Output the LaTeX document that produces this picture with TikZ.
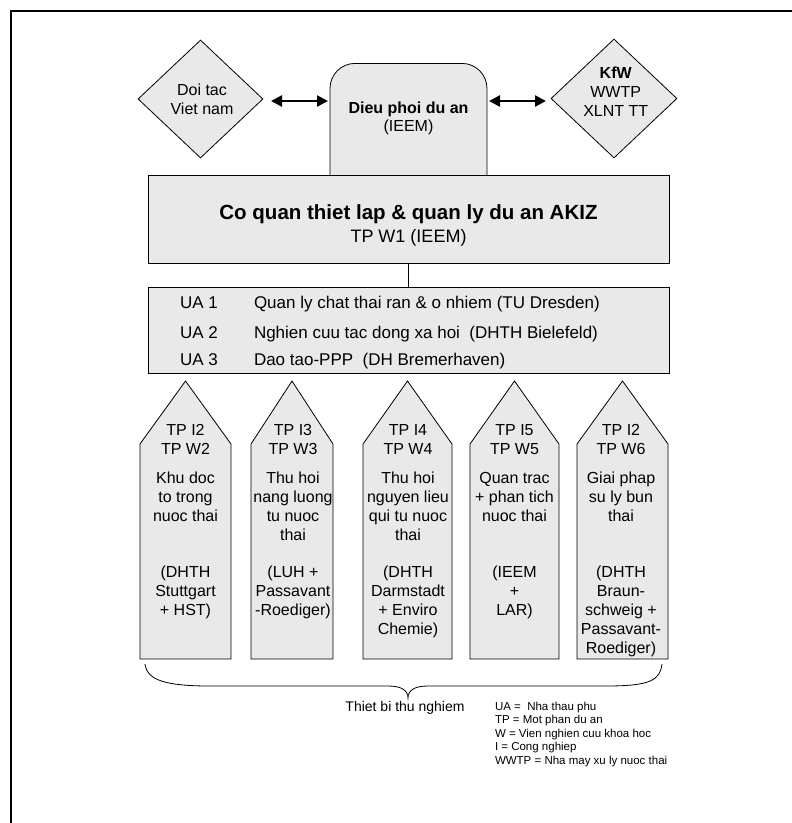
\documentclass[tikz,border=0pt]{standalone}
\usepackage{fontspec}
\setmainfont{Liberation Sans}
\usetikzlibrary{arrows.meta,shapes.geometric}
\definecolor{boxfill}{RGB}{233,233,233}
\begin{document}
\begin{tikzpicture}[x=1pt,y=-1pt,
  shapebox/.style={draw=black, line width=0.8pt, fill=boxfill},
  txt/.style={inner sep=0pt, outer sep=0pt, align=center, anchor=base},
  txtl/.style={inner sep=0pt, outer sep=0pt, align=left, anchor=base west},
  fsix/.style={font=\fontsize{16}{18.8}\selectfont},
  fua/.style={font=\fontsize{17}{20}\selectfont},
  dbl/.style={line width=2.3pt, {Triangle[length=11pt,width=11pt]}-{Triangle[length=11pt,width=11pt]}},
  frame/.style={line width=2.3pt}
]
\useasboundingbox (0,0) rectangle (792,823);
\fill[white] (0,0) rectangle (792,823);
\draw[frame] (11,823) -- (11,11) -- (792,11);

% coordination box (extends behind main box)
\node[shapebox, rounded corners=25pt, minimum width=157pt, minimum height=150pt,
      anchor=north, inner sep=0pt] (dieu) at (408.5,63) {};
% main box
\node[shapebox, minimum width=521.5pt, minimum height=88pt, anchor=north west,
      inner sep=0pt] (main) at (147.5,175) {};
% UA box
\node[shapebox, minimum width=521.5pt, minimum height=85.5pt, anchor=north west,
      inner sep=0pt] (ua) at (147.5,287) {};
\draw[line width=0.8pt] (main.south) -- (ua.north);

% diamonds
\node[diamond, shapebox, minimum width=125pt, minimum height=118pt, inner sep=0pt] (ldia) at (200.5,99) {};
\node[diamond, shapebox, minimum width=126pt, minimum height=119pt, inner sep=0pt] (rdia) at (614,98.5) {};

% arrows
\coordinate (la1) at (271,101);
\coordinate (la2) at (328,101);
\coordinate (ra1) at (489,101);
\coordinate (ra2) at (546,101);
\draw[dbl] (la1) -- (la2);
\draw[dbl] (ra1) -- (ra2);

% texts top (base anchor = baseline of last line)
\node[txt, fsix] (tldia) at (202,114.6) {Doi tac\\Viet nam};
\node[txt, fsix] (trdia) at (615.7,116.4) {\textbf{KfW}\\WWTP\\XLNT TT};
\node[txt, font=\fontsize{16}{18}\selectfont] (tdieu) at (408.5,131.8) {\textbf{Dieu phoi du an}\\(IEEM)};
\node[txt, font=\bfseries\fontsize{20.5}{24}\selectfont] (tmain) at (408.5,219) {Co quan thiet lap \& quan ly du an AKIZ};
\node[txt, font=\fontsize{18}{21}\selectfont] (tmain2) at (408.5,242.5) {TP W1 (IEEM)};

% UA rows
\node[txtl, fua] (u1a) at (180,308) {UA 1};
\node[txtl, fua] (u1b) at (254,308) {Quan ly chat thai ran \& o nhiem (TU Dresden)};
\node[txtl, fua] (u2a) at (180,338) {UA 2};
\node[txtl, fua] (u2b) at (254,338) {Nghien cuu tac dong xa hoi \ (DHTH Bielefeld)};
\node[txtl, fua] (u3a) at (180,365) {UA 3};
\node[txtl, fua] (u3b) at (254,365) {Dao tao-PPP \ (DH Bremerhaven)};

% pentagons
\foreach \l/\r in {140/231, 251/333, 363/452, 470/559, 577/668}{
  \draw[shapebox] (\l,659) -- (\l,444) -- ({(\l+\r)/2},381) -- (\r,444) -- (\r,659) -- cycle;
}

% pentagon texts
\node[txt, fsix] (p1a) at (185.5,454.6) {TP I2\\TP W2};
\node[txt, fsix] (p1b) at (185.5,521.4) {Khu doc\\to trong\\nuoc thai};
\node[txt, fsix] (p1c) at (185.5,615.4) {(DHTH\\Stuttgart\\+ HST)};

\node[txt, fsix] (p2a) at (293,454.6) {TP I3\\TP W3};
\node[txt, fsix] (p2b) at (293,540.2) {Thu hoi\\nang luong\\tu nuoc\\thai};
\node[txt, fsix] (p2c) at (293,615.4) {(LUH +\\Passavant\\-Roediger)};

\node[txt, fsix] (p3a) at (408,454.6) {TP I4\\TP W4};
\node[txt, fsix] (p3b) at (408,540.2) {Thu hoi\\nguyen lieu\\qui tu nuoc\\thai};
\node[txt, fsix] (p3c) at (408,634.2) {(DHTH\\Darmstadt\\+ Enviro\\Chemie)};

\node[txt, fsix] (p4a) at (514.5,454.6) {TP I5\\TP W5};
\node[txt, fsix] (p4b) at (514.5,521.4) {Quan trac\\+ phan tich\\nuoc thai};
\node[txt, fsix] (p4c) at (514.5,615.4) {(IEEM\\+\\LAR)};

\node[txt, fsix] (p5a) at (621,454.6) {TP I2\\TP W6};
\node[txt, fsix] (p5b) at (621,521.4) {Giai phap\\su ly bun\\thai};
\node[txt, fsix] (p5c) at (621,653) {(DHTH\\Braun-\\schweig +\\Passavant-\\Roediger)};

% brace
\draw[line width=0.8pt] (145,664) .. controls (147,680) and (165,686) .. (210,686)
  -- (388,686) .. controls (401,686) and (408,690) .. (408,698)
  .. controls (408,690) and (415,686) .. (428,686)
  -- (606,686) .. controls (651,686) and (660,680) .. (662,664);
\node[txt, font=\fontsize{14}{16}\selectfont] (thiet) at (405,711) {Thiet bi thu nghiem};

% legend
\node[txtl, font=\fontsize{11.5}{13.5}\selectfont] (legend) at (495,764.2)
  {UA = \ Nha thau phu\\TP = Mot phan du an\\W = Vien nghien cuu khoa hoc\\I = Cong nghiep\\WWTP = Nha may xu ly nuoc thai};
\end{tikzpicture}
\end{document}
